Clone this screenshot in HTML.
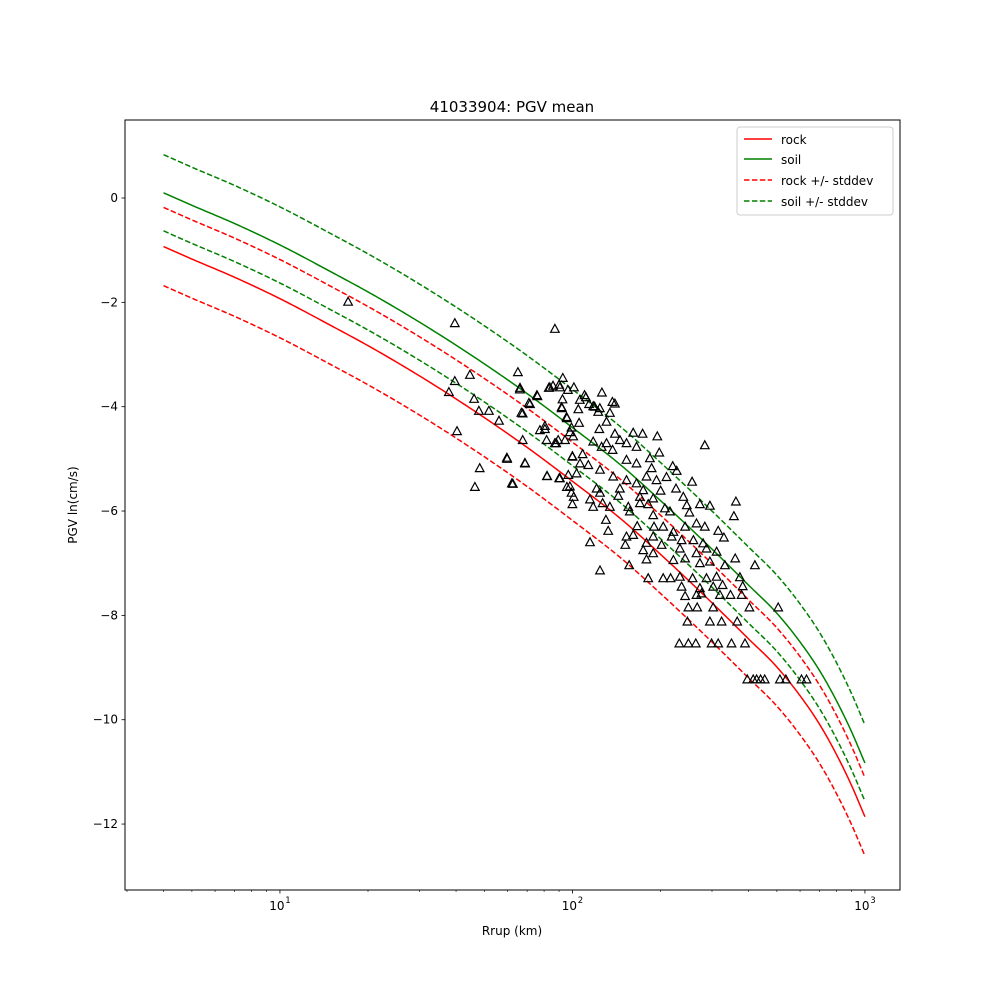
<!DOCTYPE html>
<html><head><meta charset="utf-8"><style>
html,body{margin:0;padding:0;background:#fff;}
svg text{font-family:"DejaVu Sans","Liberation Sans",sans-serif;}
</style></head><body>
<svg id="chart" width="1000" height="1000" viewBox="0 0 1000 1000" xmlns="http://www.w3.org/2000/svg">
<rect x="0" y="0" width="1000" height="1000" fill="#fff"/>
<text x="512" y="112" font-size="15" text-anchor="middle">41033904: PGV mean</text>
<g id="curves"></g>
<g id="points"></g>
<g id="axes"></g>
<rect x="125" y="120" width="775" height="770" fill="none" stroke="#000" stroke-width="1"/>
<text x="512" y="935" font-size="12" text-anchor="middle">Rrup (km)</text>
<text x="77" y="505" font-size="12" text-anchor="middle" transform="rotate(-90 77 505)">PGV ln(cm/s)</text>
<g>
<rect x="737" y="127" width="156" height="88" rx="3" fill="#fff" fill-opacity="0.8" stroke="#ccc"/>
<g><line x1="744" y1="139" x2="772" y2="139" stroke="#f00" stroke-width="1.5"/><text x="781" y="144" font-size="12">rock</text></g>
<g><line x1="744" y1="159" x2="772" y2="159" stroke="#008000" stroke-width="1.5"/><text x="781" y="164" font-size="12">soil</text></g>
<g><line x1="744" y1="180" x2="772" y2="180" stroke="#f00" stroke-width="1.5" stroke-dasharray="5.5,2.4"/><text x="781" y="185" font-size="12">rock +/- stddev</text></g>
<g><line x1="744" y1="201" x2="772" y2="201" stroke="#008000" stroke-width="1.5" stroke-dasharray="5.5,2.4"/><text x="781" y="206" font-size="12">soil +/- stddev</text></g>
</g>
</svg>
<script>
const curveR=[4,5,7,10,15,20,30,50,70,100,150,200,300,400,500,600,700,800,900,1000];
const rockMean=[-0.93,-1.17,-1.52,-1.93,-2.45,-2.83,-3.41,-4.21,-4.78,-5.43,-6.20,-6.83,-7.76,-8.45,-8.99,-9.54,-10.09,-10.67,-11.26,-11.86];
const rockUpper=[-0.18,-0.42,-0.77,-1.18,-1.70,-2.08,-2.66,-3.46,-4.03,-4.68,-5.45,-6.08,-7.01,-7.70,-8.24,-8.79,-9.34,-9.92,-10.51,-11.11];
const rockLower=[-1.68,-1.92,-2.27,-2.68,-3.20,-3.58,-4.16,-4.96,-5.53,-6.18,-6.95,-7.58,-8.51,-9.20,-9.74,-10.29,-10.84,-11.42,-12.01,-12.61];
const soilMean=[0.10,-0.14,-0.49,-0.90,-1.42,-1.80,-2.38,-3.18,-3.75,-4.40,-5.17,-5.80,-6.73,-7.42,-7.96,-8.51,-9.06,-9.64,-10.23,-10.83];
const soilUpper=[0.83,0.59,0.24,-0.17,-0.69,-1.07,-1.65,-2.45,-3.02,-3.67,-4.44,-5.07,-6.00,-6.69,-7.23,-7.78,-8.33,-8.91,-9.50,-10.10];
const soilLower=[-0.63,-0.87,-1.22,-1.63,-2.15,-2.53,-3.11,-3.91,-4.48,-5.13,-5.90,-6.53,-7.46,-8.15,-8.69,-9.24,-9.79,-10.37,-10.96,-11.56];
const yTicks=[0,-2,-4,-6,-8,-10,-12];
const yTickLabels=["0","\u22122","\u22124","\u22126","\u22128","\u221210","\u221212"];
const xTicks=[10,100,1000];
const xTickExp=["1","2","3"];
const rData=[17.1,39.6,39.6,37.8,40.3,44.6,46.1,47.9,46.4,48.2,51.8,56.1,59.7,62.6,65.1,66.2,66.9,67.6,68.8,71.0,75.6,77.4,80.5,81.8,83.0,85.8,87.1,88,90,90.6,92,92.7,94.3,95.7,95.7,96.5,98.1,100,101,106,114,124,137,110,119,
66.1,83.7,90.6,101.2,75.9,71.6,92.5,111.2,126.1,139.7,91.8,104.7,117.8,122.5,134.3,67.6,95.5,105.4,130.8,99.3,123.6,80.5,139.7,161.4,173.7,195.0,283.5,81.6,89.4,87.1,100.6,117.8,130.8,145.3,153.1,165.6,125.8,137.2,100,108.3,184.0,198.2,59.8,68.9,106.1,113.3,153.1,165.6,186.5,220.2,227.2,82.0,90.1,96.8,103.3,124.2,137.8,153.1,165.6,179.2,193.9,209.7,256.6,62.1,98.0,121.0,145.3,174.6,200.2,226.0,99.3,124.2,143.5,170.1,188.9,239.4,100,114.8,126.8,134.3,155.2,170.1,181.6,207.0,246.0,272.7,295.0,362.0,117.8,157.1,188.9,215.5,251.2,356.4,130.1,166.5,190.0,204.4,221.4,242.7,265.6,283.5,315.1,132.5,153.1,161.4,179.2,188.9,218.4,236.2,259.1,279.8,329.5,114.8,151.6,174.6,188.9,201.8,233.1,265.6,287.3,311.1,360.2,179.2,221.4,242.7,272.7,295.0,332.1,420.5,124.2,156.3,181.6,204.4,216.6,233.1,257.6,287.3,311.1,373.8,236.2,272.7,302.9,326.1,382.1,242.7,265.6,276.2,319.3,347.2,378.9,249.2,267.0,302.9,402.6,505.4,247.3,295.0,323.5,365.8,231.9,249.2,264.2,299.0,315.1,349.9,389.0,396.2,426.2,454.4,511.9,536.6,606.9,631.1,415,440];
const pgvData=[-1.99,-2.40,-3.51,-3.72,-4.47,-3.39,-3.85,-4.08,-5.54,-5.18,-4.08,-4.27,-4.98,-5.48,-3.34,-3.64,-4.12,-4.64,-5.08,-3.93,-3.78,-4.45,-4.37,-5.33,-3.64,-3.60,-2.51,-4.70,-3.58,-5.37,-4.03,-3.45,-4.64,-4.22,-5.54,-3.68,-4.49,-4.96,-5.73,-3.87,-3.95,-4.03,-3.91,-3.78,-4.0,
-3.67,-3.63,-3.63,-3.63,-3.80,-3.95,-3.86,-3.82,-3.73,-3.94,-4.01,-4.05,-3.99,-4.10,-4.12,-4.13,-4.20,-4.31,-4.29,-4.40,-4.43,-4.43,-4.52,-4.50,-4.52,-4.57,-4.74,-4.64,-4.64,-4.70,-4.57,-4.67,-4.70,-4.64,-4.70,-4.77,-4.77,-4.83,-4.95,-4.91,-4.99,-4.88,-5.00,-5.09,-5.09,-5.12,-5.02,-5.09,-5.18,-5.14,-5.23,-5.33,-5.37,-5.31,-5.28,-5.21,-5.34,-5.41,-5.47,-5.34,-5.41,-5.35,-5.44,-5.47,-5.53,-5.57,-5.57,-5.60,-5.61,-5.57,-5.65,-5.65,-5.71,-5.73,-5.76,-5.73,-5.87,-5.78,-5.85,-5.92,-5.92,-5.85,-5.87,-5.95,-5.89,-5.87,-5.90,-5.82,-5.92,-6.01,-6.08,-6.01,-6.03,-6.10,-6.17,-6.29,-6.30,-6.30,-6.40,-6.30,-6.24,-6.30,-6.38,-6.38,-6.49,-6.46,-6.61,-6.49,-6.49,-6.56,-6.56,-6.62,-6.51,-6.60,-6.65,-6.75,-6.81,-6.65,-6.72,-6.81,-6.72,-6.78,-6.91,-6.93,-6.94,-6.91,-7.00,-6.97,-7.04,-7.04,-7.14,-7.04,-7.29,-7.29,-7.29,-7.26,-7.29,-7.29,-7.26,-7.27,-7.45,-7.48,-7.45,-7.42,-7.44,-7.63,-7.61,-7.58,-7.61,-7.61,-7.61,-7.85,-7.85,-7.85,-7.85,-7.85,-8.12,-8.12,-8.12,-8.12,-8.54,-8.54,-8.54,-8.54,-8.54,-8.54,-8.54,-9.23,-9.23,-9.23,-9.23,-9.23,-9.23,-9.23,-9.23,-9.23];

const NS='http://www.w3.org/2000/svg';
const X0=125,X1=900,Y0=120,Y1=890;
const xlogMin=Math.log10(2.953),xlogMax=Math.log10(1318);
const yMin=-13.264,yMax=1.495;
function xs(r){return X0+(Math.log10(r)-xlogMin)/(xlogMax-xlogMin)*(X1-X0);}
function ys(v){return Y1-(v-yMin)/(yMax-yMin)*(Y1-Y0);}
function mk(tag,attrs,parent){const e=document.createElementNS(NS,tag);for(const k in attrs)e.setAttribute(k,attrs[k]);parent.appendChild(e);return e;}

const curves=document.getElementById('curves');
function drawCurve(vals,color,dashed,name){
  const lx=curveR.map(r=>Math.log10(r));
  const n=lx.length;
  const sl=[];for(let i=0;i<n-1;i++)sl.push((vals[i+1]-vals[i])/(lx[i+1]-lx[i]));
  const m=[];for(let i=0;i<n;i++){if(i===0)m.push(sl[0]);else if(i===n-1)m.push(sl[n-2]);else{const h0=lx[i]-lx[i-1],h1=lx[i+1]-lx[i];m.push((sl[i-1]*h1+sl[i]*h0)/(h0+h1));}}
  let d='';
  for(let i=0;i<n-1;i++){
    const h=lx[i+1]-lx[i];
    for(let k=0;k<=20;k++){
      if(i>0&&k===0)continue;
      const t=k/20,t2=t*t,t3=t2*t;
      const v=(2*t3-3*t2+1)*vals[i]+(t3-2*t2+t)*h*m[i]+(-2*t3+3*t2)*vals[i+1]+(t3-t2)*h*m[i+1];
      const L=lx[i]+t*h;
      const px=X0+(L-xlogMin)/(xlogMax-xlogMin)*(X1-X0),py=ys(v);
      d+=(d?' L':'M')+px.toFixed(2)+','+py.toFixed(2);
    }
  }
  const el=mk('path',{d:d,fill:'none',stroke:color,'stroke-width':1.5},curves);
  if(dashed)el.setAttribute('stroke-dasharray','5.5,2.4');
  
  
}
drawCurve(rockMean,'#f00',false,'rock-mean-line');
drawCurve(soilMean,'#008000',false,'soil-mean-line');
drawCurve(rockUpper,'#f00',true,'rock-upper-stddev-line');
drawCurve(rockLower,'#f00',true,'rock-lower-stddev-line');
drawCurve(soilUpper,'#008000',true,'soil-upper-stddev-line');
drawCurve(soilLower,'#008000',true,'soil-lower-stddev-line');

const pts=document.getElementById('points');
for(let i=0;i<rData.length;i++){
  const x=xs(rData[i]),y=ys(pgvData[i]);
  const t=mk('path',{d:'M'+x.toFixed(1)+','+(y-4.5).toFixed(1)+' L'+(x+4.3).toFixed(1)+','+(y+3.4).toFixed(1)+' L'+(x-4.3).toFixed(1)+','+(y+3.4).toFixed(1)+' Z',fill:'none',stroke:'#000','stroke-width':1.2},pts);
  
  
}

const ax=document.getElementById('axes');
yTicks.forEach((v,i)=>{
  const y=ys(v);
  mk('line',{x1:X0-3.5,y1:y,x2:X0,y2:y,stroke:'#000','stroke-width':0.8},ax);
  const t=mk('text',{x:X0-7,y:y+4,'font-size':12,'text-anchor':'end'},ax);
  t.textContent=yTickLabels[i];
  
  
});
xTicks.forEach((v,i)=>{
  const x=xs(v);
  mk('line',{x1:x,y1:Y1,x2:x,y2:Y1+3.5,stroke:'#000','stroke-width':0.8},ax);
  const t=mk('text',{x:x-3,y:Y1+20,'font-size':12,'text-anchor':'middle'},ax);
  t.textContent='10';
  
  
  const s=mk('text',{x:x+8,y:Y1+13,'font-size':8.5,'text-anchor':'middle'},ax);
  s.textContent=xTickExp[i];
  
  
});
[1,10,100,1000].forEach(dec=>{
  for(let m=2;m<=9;m++){
    const r=dec*m;
    const x=xs(r);
    if(x<X0||x>X1)continue;
    mk('line',{x1:x,y1:Y1,x2:x,y2:Y1+2,stroke:'#000','stroke-width':0.6},ax);
  }
});
</script>
</body></html>
